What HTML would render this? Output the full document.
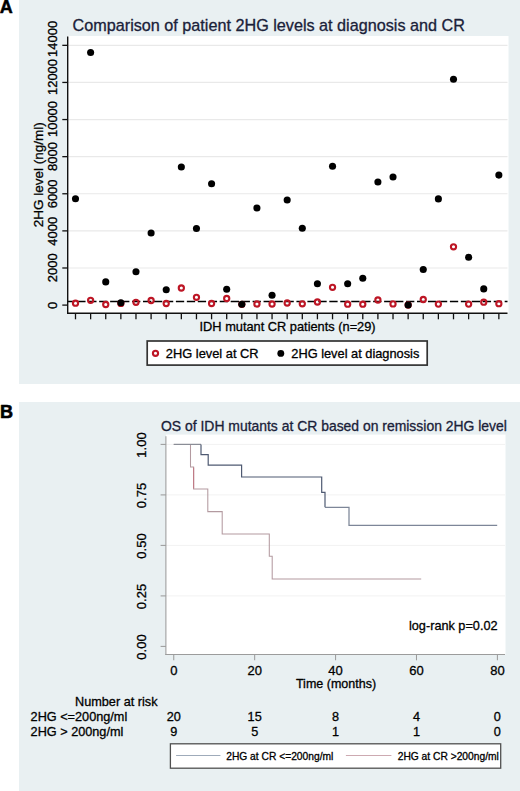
<!DOCTYPE html>
<html><head><meta charset="utf-8"><title>2HG levels</title>
<style>
html,body{margin:0;padding:0;background:#fff;}
body{width:520px;height:791px;overflow:hidden;}
svg{display:block;font-family:"Liberation Sans",sans-serif;}
text{stroke:#000;stroke-width:0.3px;stroke-linejoin:round;}
text.ti{stroke:#1a2139;}
</style></head><body>
<svg width="520" height="791" viewBox="0 0 520 791">
<rect x="0" y="0" width="520" height="791" fill="#fff"/>
<rect x="19" y="0" width="501" height="384" fill="#e9f0f2"/>
<rect x="19" y="402" width="501" height="389" fill="#e9f0f2"/>
<text x="-0.3" y="12.6" font-size="18" font-weight="700" fill="#000" style="stroke-width:0.5px">A</text>
<text x="0" y="417.8" font-size="18" font-weight="700" fill="#000" style="stroke-width:0.6px">B</text>
<rect x="68" y="36" width="440.5" height="277.5" fill="#fff"/>
<line x1="68" x2="507.5" y1="267.99" y2="267.99" stroke="#e9e9e9" stroke-width="1.2"/>
<line x1="68" x2="507.5" y1="230.88" y2="230.88" stroke="#e9e9e9" stroke-width="1.2"/>
<line x1="68" x2="507.5" y1="193.77" y2="193.77" stroke="#e9e9e9" stroke-width="1.2"/>
<line x1="68" x2="507.5" y1="156.66" y2="156.66" stroke="#e9e9e9" stroke-width="1.2"/>
<line x1="68" x2="507.5" y1="119.55" y2="119.55" stroke="#e9e9e9" stroke-width="1.2"/>
<line x1="68" x2="507.5" y1="82.44" y2="82.44" stroke="#e9e9e9" stroke-width="1.2"/>
<line x1="68" x2="507.5" y1="45.33" y2="45.33" stroke="#e9e9e9" stroke-width="1.2"/>
<text class="ti" x="72.6" y="30.7" font-size="16.2" fill="#1a2139">Comparison of patient 2HG levels at diagnosis and CR</text>
<line x1="68" x2="507.5" y1="301.5" y2="301.5" stroke="#000" stroke-width="1.7" stroke-dasharray="8.3 2.66" stroke-dashoffset="-9.24"/>
<line x1="67.7" x2="67.7" y1="36.5" y2="314" stroke="#111" stroke-width="1.4"/>
<line x1="67" x2="507.5" y1="313.3" y2="313.3" stroke="#111" stroke-width="1.4"/>
<line x1="62.3" x2="67.7" y1="305.10" y2="305.10" stroke="#111" stroke-width="1.3"/>
<line x1="62.3" x2="67.7" y1="267.99" y2="267.99" stroke="#111" stroke-width="1.3"/>
<line x1="62.3" x2="67.7" y1="230.88" y2="230.88" stroke="#111" stroke-width="1.3"/>
<line x1="62.3" x2="67.7" y1="193.77" y2="193.77" stroke="#111" stroke-width="1.3"/>
<line x1="62.3" x2="67.7" y1="156.66" y2="156.66" stroke="#111" stroke-width="1.3"/>
<line x1="62.3" x2="67.7" y1="119.55" y2="119.55" stroke="#111" stroke-width="1.3"/>
<line x1="62.3" x2="67.7" y1="82.44" y2="82.44" stroke="#111" stroke-width="1.3"/>
<line x1="62.3" x2="67.7" y1="45.33" y2="45.33" stroke="#111" stroke-width="1.3"/>
<text transform="translate(57,305.5) rotate(-90)" text-anchor="middle" font-size="13" fill="#000">0</text>
<text transform="translate(57,267.8) rotate(-90)" text-anchor="middle" font-size="13" fill="#000">2000</text>
<text transform="translate(57,231.3) rotate(-90)" text-anchor="middle" font-size="13" fill="#000">4000</text>
<text transform="translate(57,193.9) rotate(-90)" text-anchor="middle" font-size="13" fill="#000">6000</text>
<text transform="translate(57,156.6) rotate(-90)" text-anchor="middle" font-size="13" fill="#000">8000</text>
<text transform="translate(57,119) rotate(-90)" text-anchor="middle" font-size="13" fill="#000">10000</text>
<text transform="translate(57,77) rotate(-90)" text-anchor="middle" font-size="13" fill="#000">12000</text>
<text transform="translate(57,38.9) rotate(-90)" text-anchor="middle" font-size="13" fill="#000">14000</text>
<text transform="translate(43.2,174.8) rotate(-90)" text-anchor="middle" font-size="13.5" fill="#000">2HG level (ng/ml)</text>
<line x1="75.50" x2="75.50" y1="313" y2="319.3" stroke="#111" stroke-width="1.3"/>
<line x1="90.62" x2="90.62" y1="313" y2="319.3" stroke="#111" stroke-width="1.3"/>
<line x1="105.74" x2="105.74" y1="313" y2="319.3" stroke="#111" stroke-width="1.3"/>
<line x1="120.86" x2="120.86" y1="313" y2="319.3" stroke="#111" stroke-width="1.3"/>
<line x1="135.98" x2="135.98" y1="313" y2="319.3" stroke="#111" stroke-width="1.3"/>
<line x1="151.10" x2="151.10" y1="313" y2="319.3" stroke="#111" stroke-width="1.3"/>
<line x1="166.22" x2="166.22" y1="313" y2="319.3" stroke="#111" stroke-width="1.3"/>
<line x1="181.34" x2="181.34" y1="313" y2="319.3" stroke="#111" stroke-width="1.3"/>
<line x1="196.46" x2="196.46" y1="313" y2="319.3" stroke="#111" stroke-width="1.3"/>
<line x1="211.58" x2="211.58" y1="313" y2="319.3" stroke="#111" stroke-width="1.3"/>
<line x1="226.70" x2="226.70" y1="313" y2="319.3" stroke="#111" stroke-width="1.3"/>
<line x1="241.82" x2="241.82" y1="313" y2="319.3" stroke="#111" stroke-width="1.3"/>
<line x1="256.94" x2="256.94" y1="313" y2="319.3" stroke="#111" stroke-width="1.3"/>
<line x1="272.06" x2="272.06" y1="313" y2="319.3" stroke="#111" stroke-width="1.3"/>
<line x1="287.18" x2="287.18" y1="313" y2="319.3" stroke="#111" stroke-width="1.3"/>
<line x1="302.30" x2="302.30" y1="313" y2="319.3" stroke="#111" stroke-width="1.3"/>
<line x1="317.42" x2="317.42" y1="313" y2="319.3" stroke="#111" stroke-width="1.3"/>
<line x1="332.54" x2="332.54" y1="313" y2="319.3" stroke="#111" stroke-width="1.3"/>
<line x1="347.66" x2="347.66" y1="313" y2="319.3" stroke="#111" stroke-width="1.3"/>
<line x1="362.78" x2="362.78" y1="313" y2="319.3" stroke="#111" stroke-width="1.3"/>
<line x1="377.90" x2="377.90" y1="313" y2="319.3" stroke="#111" stroke-width="1.3"/>
<line x1="393.02" x2="393.02" y1="313" y2="319.3" stroke="#111" stroke-width="1.3"/>
<line x1="408.14" x2="408.14" y1="313" y2="319.3" stroke="#111" stroke-width="1.3"/>
<line x1="423.26" x2="423.26" y1="313" y2="319.3" stroke="#111" stroke-width="1.3"/>
<line x1="438.38" x2="438.38" y1="313" y2="319.3" stroke="#111" stroke-width="1.3"/>
<line x1="453.50" x2="453.50" y1="313" y2="319.3" stroke="#111" stroke-width="1.3"/>
<line x1="468.62" x2="468.62" y1="313" y2="319.3" stroke="#111" stroke-width="1.3"/>
<line x1="483.74" x2="483.74" y1="313" y2="319.3" stroke="#111" stroke-width="1.3"/>
<line x1="498.86" x2="498.86" y1="313" y2="319.3" stroke="#111" stroke-width="1.3"/>
<text x="287.6" y="330.7" text-anchor="middle" font-size="12.8" fill="#000">IDH mutant CR patients (n=29)</text>
<circle cx="75.50" cy="303.2" r="2.6" fill="none" stroke="#bd1625" stroke-width="2.1"/>
<circle cx="90.62" cy="300.3" r="2.6" fill="none" stroke="#bd1625" stroke-width="2.1"/>
<circle cx="105.74" cy="304.5" r="2.6" fill="none" stroke="#bd1625" stroke-width="2.1"/>
<circle cx="120.86" cy="303.4" r="2.6" fill="none" stroke="#bd1625" stroke-width="2.1"/>
<circle cx="135.98" cy="302.3" r="2.6" fill="none" stroke="#bd1625" stroke-width="2.1"/>
<circle cx="151.10" cy="300.5" r="2.6" fill="none" stroke="#bd1625" stroke-width="2.1"/>
<circle cx="166.22" cy="303.5" r="2.6" fill="none" stroke="#bd1625" stroke-width="2.1"/>
<circle cx="181.34" cy="288" r="2.6" fill="none" stroke="#bd1625" stroke-width="2.1"/>
<circle cx="196.46" cy="297.3" r="2.6" fill="none" stroke="#bd1625" stroke-width="2.1"/>
<circle cx="211.58" cy="303.5" r="2.6" fill="none" stroke="#bd1625" stroke-width="2.1"/>
<circle cx="226.70" cy="298.5" r="2.6" fill="none" stroke="#bd1625" stroke-width="2.1"/>
<circle cx="241.82" cy="304.3" r="2.6" fill="none" stroke="#bd1625" stroke-width="2.1"/>
<circle cx="256.94" cy="304" r="2.6" fill="none" stroke="#bd1625" stroke-width="2.1"/>
<circle cx="272.06" cy="304" r="2.6" fill="none" stroke="#bd1625" stroke-width="2.1"/>
<circle cx="287.18" cy="303" r="2.6" fill="none" stroke="#bd1625" stroke-width="2.1"/>
<circle cx="302.30" cy="303.8" r="2.6" fill="none" stroke="#bd1625" stroke-width="2.1"/>
<circle cx="317.42" cy="302" r="2.6" fill="none" stroke="#bd1625" stroke-width="2.1"/>
<circle cx="332.54" cy="287.3" r="2.6" fill="none" stroke="#bd1625" stroke-width="2.1"/>
<circle cx="347.66" cy="304.2" r="2.6" fill="none" stroke="#bd1625" stroke-width="2.1"/>
<circle cx="362.78" cy="304.2" r="2.6" fill="none" stroke="#bd1625" stroke-width="2.1"/>
<circle cx="377.90" cy="300" r="2.6" fill="none" stroke="#bd1625" stroke-width="2.1"/>
<circle cx="393.02" cy="303.9" r="2.6" fill="none" stroke="#bd1625" stroke-width="2.1"/>
<circle cx="408.14" cy="305" r="2.6" fill="none" stroke="#bd1625" stroke-width="2.1"/>
<circle cx="423.26" cy="299.5" r="2.6" fill="none" stroke="#bd1625" stroke-width="2.1"/>
<circle cx="438.38" cy="304.1" r="2.6" fill="none" stroke="#bd1625" stroke-width="2.1"/>
<circle cx="453.50" cy="246.8" r="2.6" fill="none" stroke="#bd1625" stroke-width="2.1"/>
<circle cx="468.62" cy="304.1" r="2.6" fill="none" stroke="#bd1625" stroke-width="2.1"/>
<circle cx="483.74" cy="302.2" r="2.6" fill="none" stroke="#bd1625" stroke-width="2.1"/>
<circle cx="498.86" cy="303.7" r="2.6" fill="none" stroke="#bd1625" stroke-width="2.1"/>
<circle cx="75.50" cy="198.8" r="3.55" fill="#000"/>
<circle cx="90.62" cy="52.5" r="3.55" fill="#000"/>
<circle cx="105.74" cy="281.9" r="3.55" fill="#000"/>
<circle cx="120.86" cy="302.7" r="3.55" fill="#000"/>
<circle cx="135.98" cy="271.8" r="3.55" fill="#000"/>
<circle cx="151.10" cy="233" r="3.55" fill="#000"/>
<circle cx="166.22" cy="289.8" r="3.55" fill="#000"/>
<circle cx="181.34" cy="167" r="3.55" fill="#000"/>
<circle cx="196.46" cy="228.5" r="3.55" fill="#000"/>
<circle cx="211.58" cy="183.8" r="3.55" fill="#000"/>
<circle cx="226.70" cy="289.3" r="3.55" fill="#000"/>
<circle cx="241.82" cy="304.3" r="3.55" fill="#000"/>
<circle cx="256.94" cy="208" r="3.55" fill="#000"/>
<circle cx="272.06" cy="295.3" r="3.55" fill="#000"/>
<circle cx="287.18" cy="200" r="3.55" fill="#000"/>
<circle cx="302.30" cy="228.3" r="3.55" fill="#000"/>
<circle cx="317.42" cy="283.7" r="3.55" fill="#000"/>
<circle cx="332.54" cy="166.3" r="3.55" fill="#000"/>
<circle cx="347.66" cy="283.8" r="3.55" fill="#000"/>
<circle cx="362.78" cy="278.3" r="3.55" fill="#000"/>
<circle cx="377.90" cy="182" r="3.55" fill="#000"/>
<circle cx="393.02" cy="177" r="3.55" fill="#000"/>
<circle cx="408.14" cy="305" r="3.55" fill="#000"/>
<circle cx="423.26" cy="269.5" r="3.55" fill="#000"/>
<circle cx="438.38" cy="198.9" r="3.55" fill="#000"/>
<circle cx="453.50" cy="79.3" r="3.55" fill="#000"/>
<circle cx="468.62" cy="257.3" r="3.55" fill="#000"/>
<circle cx="483.74" cy="288.9" r="3.55" fill="#000"/>
<circle cx="498.86" cy="175.1" r="3.55" fill="#000"/>
<rect x="147.2" y="341" width="280" height="24.1" fill="#fff" stroke="#333" stroke-width="1.7"/>
<circle cx="155.5" cy="353.3" r="2.6" fill="none" stroke="#bd1625" stroke-width="2.1"/>
<text x="165.8" y="358.1" font-size="12.85" fill="#000">2HG level at CR</text>
<circle cx="280.8" cy="353.4" r="3.45" fill="#000"/>
<text x="291.3" y="358.1" font-size="12.8" fill="#000">2HG level at diagnosis</text>
<rect x="166" y="434.6" width="339.5" height="219.9" fill="#fff"/>
<line x1="166" x2="505" y1="595.90" y2="595.90" stroke="#f2f2f2" stroke-width="1"/>
<line x1="166" x2="505" y1="545.40" y2="545.40" stroke="#f2f2f2" stroke-width="1"/>
<line x1="166" x2="505" y1="494.90" y2="494.90" stroke="#f2f2f2" stroke-width="1"/>
<line x1="166" x2="505" y1="444.40" y2="444.40" stroke="#f2f2f2" stroke-width="1"/>
<text class="ti" x="161" y="431" font-size="13.93" fill="#1a2139">OS of IDH mutants at CR based on remission 2HG level</text>
<line x1="165.9" x2="165.9" y1="436.3" y2="655" stroke="#9c9c9c" stroke-width="1.05"/>
<line x1="165.3" x2="505" y1="654.5" y2="654.5" stroke="#9c9c9c" stroke-width="1.05"/>
<line x1="160.6" x2="165.9" y1="646.40" y2="646.40" stroke="#9c9c9c" stroke-width="1.05"/>
<text transform="translate(146.2,647.00) rotate(-90)" text-anchor="middle" font-size="13" fill="#000">0.00</text>
<line x1="160.6" x2="165.9" y1="595.90" y2="595.90" stroke="#9c9c9c" stroke-width="1.05"/>
<text transform="translate(146.2,596.50) rotate(-90)" text-anchor="middle" font-size="13" fill="#000">0.25</text>
<line x1="160.6" x2="165.9" y1="545.40" y2="545.40" stroke="#9c9c9c" stroke-width="1.05"/>
<text transform="translate(146.2,546.00) rotate(-90)" text-anchor="middle" font-size="13" fill="#000">0.50</text>
<line x1="160.6" x2="165.9" y1="494.90" y2="494.90" stroke="#9c9c9c" stroke-width="1.05"/>
<text transform="translate(146.2,495.50) rotate(-90)" text-anchor="middle" font-size="13" fill="#000">0.75</text>
<line x1="160.6" x2="165.9" y1="444.40" y2="444.40" stroke="#9c9c9c" stroke-width="1.05"/>
<text transform="translate(146.2,445.00) rotate(-90)" text-anchor="middle" font-size="13" fill="#000">1.00</text>
<line x1="173.75" x2="173.75" y1="654.5" y2="660.3" stroke="#9c9c9c" stroke-width="1.05"/>
<text x="173.75" y="675.3" text-anchor="middle" font-size="13" fill="#000">0</text>
<line x1="254.66" x2="254.66" y1="654.5" y2="660.3" stroke="#9c9c9c" stroke-width="1.05"/>
<text x="254.66" y="675.3" text-anchor="middle" font-size="13" fill="#000">20</text>
<line x1="335.57" x2="335.57" y1="654.5" y2="660.3" stroke="#9c9c9c" stroke-width="1.05"/>
<text x="335.57" y="675.3" text-anchor="middle" font-size="13" fill="#000">40</text>
<line x1="416.49" x2="416.49" y1="654.5" y2="660.3" stroke="#9c9c9c" stroke-width="1.05"/>
<text x="416.49" y="675.3" text-anchor="middle" font-size="13" fill="#000">60</text>
<line x1="497.40" x2="497.40" y1="654.5" y2="660.3" stroke="#9c9c9c" stroke-width="1.05"/>
<text x="497.40" y="675.3" text-anchor="middle" font-size="13" fill="#000">80</text>
<text x="336" y="687.9" text-anchor="middle" font-size="12.5" fill="#000">Time (months)</text>
<path d="M173.75,444.4 H190.5 V466.9 H193.6 V488.9 H207.8 V511.6 H222.2 V534.0 H269.3 V556.2 H272.2 V579.0 H421.2" fill="none" stroke="#b39aa0" stroke-width="1.05"/>
<path d="M193.6,467.5 V488.5" fill="none" stroke="#c07a86" stroke-width="1.15"/>
<path d="M173.75,444.4 H201" fill="none" stroke="#8a8d96" stroke-width="1.25"/>
<path d="M201,444.4 V454.7 H208.2 V465.2 H241.6 V477 H321.7 V492.3 H325 V507.3" fill="none" stroke="#4f5a72" stroke-width="1.2"/>
<path d="M325,507.3 H349 V525.3 H497.2" fill="none" stroke="#7d8698" stroke-width="1.25"/>
<text x="409" y="630.2" font-size="12.7" fill="#000">log-rank p=0.02</text>
<text x="75" y="705.6" font-size="12.7" fill="#000">Number at risk</text>
<text x="30.6" y="721.2" font-size="12.7" fill="#000">2HG &lt;=200ng/ml</text>
<text x="30.6" y="735.8" font-size="12.7" fill="#000">2HG &gt; 200ng/ml</text>
<text x="173.75" y="721.3" text-anchor="middle" font-size="12.7" fill="#000">20</text>
<text x="173.75" y="735.8" text-anchor="middle" font-size="12.7" fill="#000">9</text>
<text x="254.66" y="721.3" text-anchor="middle" font-size="12.7" fill="#000">15</text>
<text x="254.66" y="735.8" text-anchor="middle" font-size="12.7" fill="#000">5</text>
<text x="335.57" y="721.3" text-anchor="middle" font-size="12.7" fill="#000">8</text>
<text x="335.57" y="735.8" text-anchor="middle" font-size="12.7" fill="#000">1</text>
<text x="416.49" y="721.3" text-anchor="middle" font-size="12.7" fill="#000">4</text>
<text x="416.49" y="735.8" text-anchor="middle" font-size="12.7" fill="#000">1</text>
<text x="497.40" y="721.3" text-anchor="middle" font-size="12.7" fill="#000">0</text>
<text x="497.40" y="735.8" text-anchor="middle" font-size="12.7" fill="#000">0</text>
<rect x="170.4" y="743.8" width="330.3" height="24.4" fill="#fff" stroke="#505050" stroke-width="1.3"/>
<line x1="176.1" x2="220.4" y1="755.5" y2="755.5" stroke="#9fabba" stroke-width="1.1"/>
<text x="226.2" y="760.4" font-size="10.25" fill="#000">2HG at CR &lt;=200ng/ml</text>
<line x1="345.9" x2="391.4" y1="755.5" y2="755.5" stroke="#cdaab1" stroke-width="1.1"/>
<text x="397.7" y="760.4" font-size="10.25" fill="#000">2HG at CR &gt;200ng/ml</text>
</svg>
</body></html>
